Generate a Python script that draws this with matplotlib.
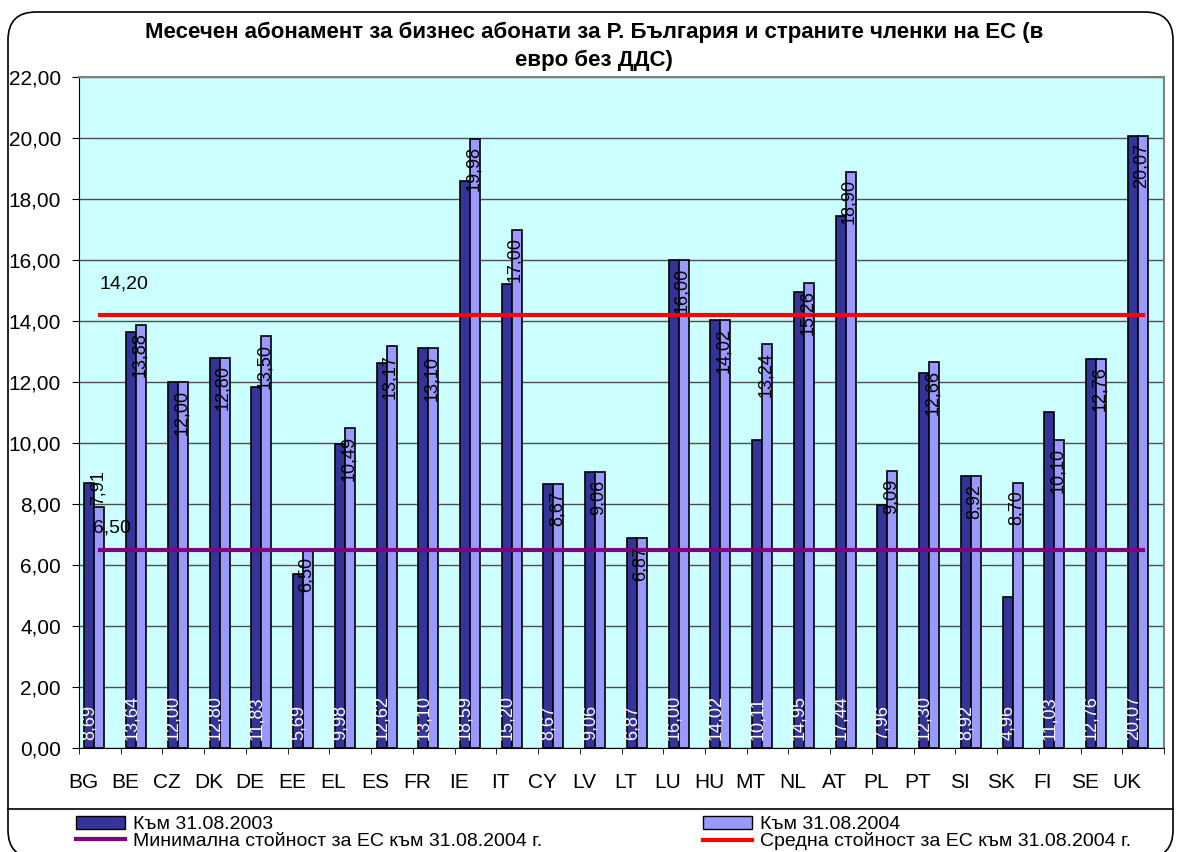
import matplotlib.pyplot as plt
import numpy as np
from matplotlib.patches import FancyBboxPatch, Patch
from matplotlib.lines import Line2D

plt.rcParams['font.family'] = ['Liberation Sans', 'DejaVu Sans']

countries = ['BG', 'BE', 'CZ', 'DK', 'DE', 'EE', 'EL', 'ES', 'FR', 'IE', 'IT', 'CY', 'LV',
             'LT', 'LU', 'HU', 'MT', 'NL', 'AT', 'PL', 'PT', 'SI', 'SK', 'FI', 'SE', 'UK']
vals_2003 = [8.69, 13.64, 12.00, 12.80, 11.83, 5.69, 9.98, 12.62, 13.10, 18.59, 15.20, 8.67, 9.06,
             6.87, 16.00, 14.02, 10.11, 14.95, 17.44, 7.96, 12.30, 8.92, 4.96, 11.03, 12.76, 20.07]
vals_2004 = [7.91, 13.88, 12.00, 12.80, 13.50, 6.50, 10.49, 13.17, 13.10, 19.98, 17.00, 8.67, 9.06,
             6.87, 16.00, 14.02, 13.24, 15.26, 18.90, 9.09, 12.66, 8.92, 8.70, 10.10, 12.76, 20.07]
eu_min = [6.50] * len(countries)
eu_avg = [14.20] * len(countries)

label_2003 = 'Към 31.08.2003'
label_2004 = 'Към 31.08.2004'
label_min = 'Минимална стойност за ЕС към 31.08.2004 г.'
label_avg = 'Средна стойност за ЕС към 31.08.2004 г.'
title1 = 'Месечен абонамент за бизнес абонати за Р. България и страните членки на ЕС (в'
title2 = 'евро без ДДС)'

dark = '#333399'
light = '#9999FF'
purple = '#800080'
red = '#FF0000'


def fmt(v):
    return '{:.2f}'.format(v).replace('.', ',')


fig = plt.figure(figsize=(11.81, 8.52), dpi=100)
ax = fig.add_axes([79 / 1181, 1 - 748 / 852, (1164 - 79) / 1181, (748 - 77) / 852])
ax.set_facecolor('#CCFFFF')

x = np.arange(len(countries))
w = 0.24
ax.bar(x - 0.25, vals_2003, w, color=dark, edgecolor='black', linewidth=1.2, zorder=3)
ax.bar(x - 0.01, vals_2004, w, color=light, edgecolor='black', linewidth=1.2, zorder=3)
ax.plot(x, eu_min, color=purple, lw=3, zorder=4)
ax.plot(x, eu_avg, color=red, lw=3, zorder=4)

# data labels
for i in range(len(countries)):
    ax.text(x[i] - 0.25, 0.25, fmt(vals_2003[i]), rotation=90, color='white',
            ha='center', va='bottom', fontsize=13, zorder=5)
    if i == 0:
        ax.text(x[i] - 0.05, vals_2004[i] + 0.05, fmt(vals_2004[i]), rotation=90,
                ha='center', va='bottom', fontsize=13, zorder=5)
    else:
        ax.text(x[i] - 0.05, vals_2004[i] - 0.25, fmt(vals_2004[i]), rotation=90,
                ha='center', va='top', fontsize=13, zorder=5)

ax.annotate(fmt(eu_avg[0]), (x[0], eu_avg[0]), xytext=(0, 31), textcoords='offset pixels',
            ha='left', va='center', fontsize=14, zorder=5)
ax.annotate(fmt(eu_min[0]), (x[0], eu_min[0]), xytext=(-7, 22), textcoords='offset pixels',
            ha='left', va='center', fontsize=14, zorder=5)

ax.set_xlim(-0.5, len(countries) - 0.5)
ax.set_ylim(0, 22)
ax.set_yticks(np.arange(0, 23, 2))
ax.set_yticklabels([fmt(v) for v in np.arange(0, 23, 2)], fontsize=15)
ax.tick_params(axis='y', direction='out', length=5, pad=8)
ax.set_xticks(x - 0.4)
ax.set_xticklabels(countries, fontsize=15)
ax.set_xticks(np.arange(len(countries) + 1) - 0.5, minor=True)
ax.tick_params(axis='x', which='major', length=0, pad=18)
ax.tick_params(axis='x', which='minor', direction='out', length=4)
ax.grid(axis='y', color='#4d4d4d', lw=1, zorder=1)
ax.set_axisbelow(True)
for s in ['top', 'right']:
    ax.spines[s].set_color('#808080')
    ax.spines[s].set_linewidth(1.5)

fig.text(0.503, 1 - 32 / 852, title1, ha='center', va='center', fontsize=16, fontweight='bold')
fig.text(0.503, 1 - 60 / 852, title2, ha='center', va='center', fontsize=16, fontweight='bold')

# chart border and legend box
fig.patches.append(FancyBboxPatch((0.08, -0.06), 11.65, 8.46, boxstyle='round,pad=0,rounding_size=0.28',
                                  transform=fig.dpi_scale_trans, facecolor='none', edgecolor='black', lw=1.2))
fig.lines.append(Line2D([8 / 1181, 1173 / 1181], [1 - 809 / 852] * 2, transform=fig.transFigure,
                        color='black', lw=1.2))

kw = dict(loc='upper left', frameon=False, fontsize=14, handlelength=2.5, handleheight=0.65,
          handletextpad=0.45, labelspacing=-0.05, borderpad=0, borderaxespad=0)
fig.legend(handles=[Patch(facecolor=dark, edgecolor='black', label=label_2003),
                    Line2D([], [], color=purple, lw=3, label=label_min)],
           bbox_to_anchor=(76 / 1181, 1 - 816 / 852), **kw)
fig.legend(handles=[Patch(facecolor=light, edgecolor='black', label=label_2004),
                    Line2D([], [], color=red, lw=3, label=label_avg)],
           bbox_to_anchor=(703 / 1181, 1 - 816 / 852), **kw)

fig.savefig('out.png', dpi=100)
